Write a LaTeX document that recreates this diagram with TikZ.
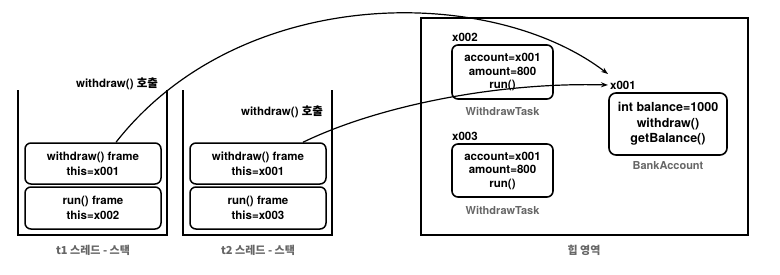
\documentclass[tikz,border=0pt]{standalone}
\usepackage{fontspec}
\setmainfont{TeX Gyre Heros}
\newfontfamily\kr{Noto Sans CJK KR}
\usetikzlibrary{arrows.meta}
\definecolor{lbl}{HTML}{666666}
\begin{document}
\begin{tikzpicture}[x=1pt,y=-1pt,
  wall/.style={line width=1.3pt},
  heapbox/.style={line width=2pt},
  framebox/.style={draw,line width=1.5pt,rounded corners=6pt,align=center,
    font=\bfseries\fontsize{11.5}{15}\selectfont,inner sep=0pt},
  objbox/.style={draw,line width=1.6pt,rounded corners=6pt,align=center,
    font=\bfseries\fontsize{11.5}{13.5}\selectfont,inner sep=0pt},
  bankbox/.style={draw,line width=1.6pt,rounded corners=7pt,align=center,
    font=\bfseries\fontsize{12.5}{15.5}\selectfont,inner sep=0pt},
  txt/.style={inner sep=0pt,font=\bfseries\fontsize{11.5}{13}\selectfont},
  greylbl/.style={inner sep=0pt,text=lbl,font=\bfseries\fontsize{11}{13}\selectfont},
  conn/.style={line width=1.2pt,-{Stealth[length=7pt,width=5pt]}}
]
\useasboundingbox (0,0) rectangle (780,274);

% stacks
\draw[wall] (18,90) -- (18,235) -- (167,235) -- (167,90);
\draw[wall] (183,90) -- (183,235) -- (332,235) -- (332,90);

\node[framebox,minimum width=136pt,minimum height=41pt] (f1w) at (93,163.5) {withdraw() frame\\this=x001};
\node[framebox,minimum width=136pt,minimum height=42pt] (f1r) at (93,208) {run() frame\\this=x002};
\node[framebox,minimum width=136pt,minimum height=41pt] (f2w) at (258,163.5) {withdraw() frame\\this=x001};
\node[framebox,minimum width=136pt,minimum height=42pt] (f2r) at (258,208) {run() frame\\this=x003};

\node[txt] (c1) at (117,84) {withdraw() {\kr\bfseries 호출}};
\node[txt] (c2) at (282,112) {withdraw() {\kr\bfseries 호출}};

\node[greylbl] (s1) at (93,250) {\kr\bfseries t1 스레드 - 스택};
\node[greylbl] (s2) at (258,250) {\kr\bfseries t2 스레드 - 스택};

% heap
\draw[heapbox] (421,18) rectangle (748,235);
\node[greylbl] (heap) at (584,250) {\kr\bfseries 힙 영역};

\node[txt,anchor=west] (x002) at (452,37) {x002};
\node[objbox,minimum width=101pt,minimum height=54pt] (t1) at (502.5,72) {account=x001\\amount=800\\run()};
\node[greylbl] (wt1) at (502.5,111) {WithdrawTask};

\node[txt,anchor=west] (x003) at (452,136) {x003};
\node[objbox,minimum width=101pt,minimum height=53pt] (t2) at (502.5,170.5) {account=x001\\amount=800\\run()};
\node[greylbl] (wt2) at (502.5,210) {WithdrawTask};

\node[txt,anchor=west] (x001) at (610,85) {x001};
\node[bankbox,minimum width=118pt,minimum height=62pt] (bank) at (668,124) {int balance=1000\\withdraw()\\getBalance()};
\node[greylbl] (ba) at (668,166) {BankAccount};

% connectors
\draw[conn] ([xshift=23pt]f1w.north) .. controls (240,-16) and (490,-16) .. ([shift={(-2,-11)}]x001.west);
\draw[conn] ([xshift=45pt]f2w.north) .. controls (380,105) and (500,82) .. ([xshift=-2pt]x001.west);
\end{tikzpicture}
\end{document}
